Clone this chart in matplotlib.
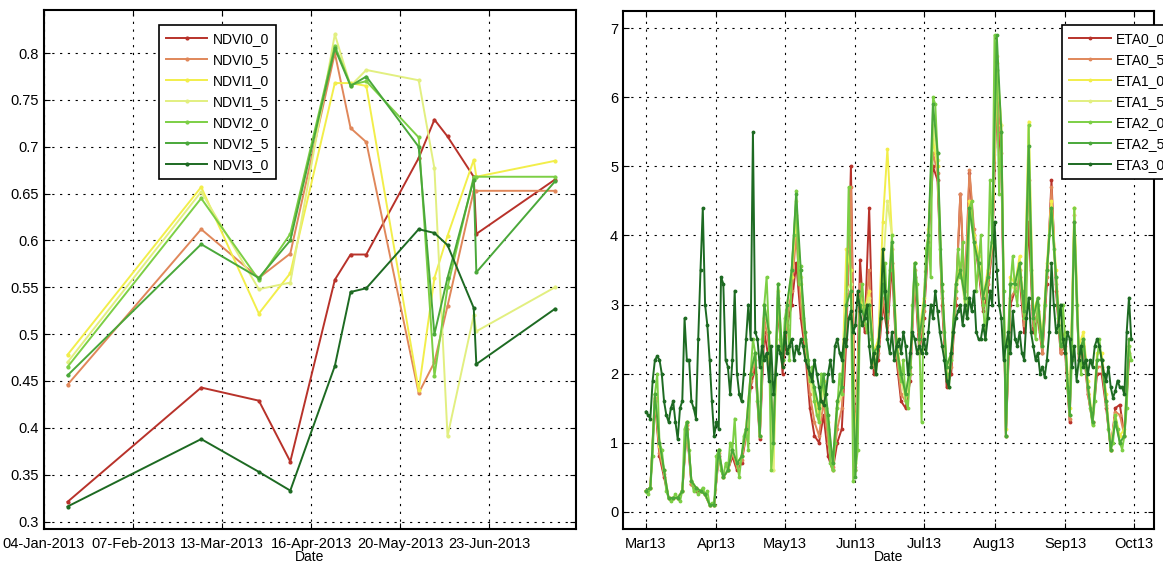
# Переводим matplotlib в безэкранный режим.
import matplotlib

matplotlib.use("Agg")

import matplotlib.pyplot as plt
import matplotlib.dates as mdates
import pandas as pd

# Шрифт в стиле MATLAB (Helvetica/Arial).
plt.rcParams["font.family"] = ["Liberation Sans", "DejaVu Sans"]

# ---------- Данные левого графика (NDVI) ----------
ndvi_dates = pd.to_datetime([
    "2013-01-13", "2013-03-05", "2013-03-27", "2013-04-08", "2013-04-25",
    "2013-05-01", "2013-05-07", "2013-05-27", "2013-06-02", "2013-06-07",
    "2013-06-17", "2013-06-18", "2013-07-18",
])
ndvi0_0 = [0.321, 0.443, 0.429, 0.364, 0.558, 0.585, 0.585, 0.688, 0.729, 0.711, 0.668, 0.607, 0.665]
ndvi0_5 = [0.446, 0.612, 0.560, 0.586, 0.800, 0.720, 0.705, 0.437, 0.470, 0.530, 0.653, 0.653, 0.653]
ndvi1_0 = [0.478, 0.657, 0.522, 0.565, 0.768, 0.768, 0.765, 0.440, 0.560, 0.605, 0.686, 0.668, 0.685]
ndvi1_5 = [0.470, 0.652, 0.548, 0.555, 0.820, 0.765, 0.782, 0.771, 0.677, 0.391, 0.520, 0.503, 0.550]
ndvi2_0 = [0.465, 0.645, 0.558, 0.607, 0.808, 0.766, 0.770, 0.710, 0.455, 0.550, 0.668, 0.668, 0.668]
ndvi2_5 = [0.456, 0.596, 0.560, 0.600, 0.805, 0.765, 0.775, 0.700, 0.500, 0.560, 0.665, 0.566, 0.663]
ndvi3_0 = [0.316, 0.388, 0.353, 0.333, 0.466, 0.545, 0.549, 0.612, 0.608, 0.595, 0.528, 0.468, 0.527]
ndvi_labels = ["NDVI0_0", "NDVI0_5", "NDVI1_0", "NDVI1_5", "NDVI2_0", "NDVI2_5", "NDVI3_0"]
ndvi_ticks = ["2013-01-04", "2013-02-07", "2013-03-13", "2013-04-16", "2013-05-20", "2013-06-23"]

# ---------- Данные правого графика (ETA) ----------
# Суточные ряды с 1 марта 2013.
eta2_0 = [
    0.3, 0.25, 0.35, 0.8, 1.7, 2.0, 1.0, 0.9, 0.6, 0.3,
    0.2, 0.15, 0.2, 0.25, 0.2, 0.15, 0.3, 1.2, 1.3, 0.9,
    0.45, 0.3, 0.35, 0.25, 0.3, 0.35, 0.25, 0.3, 0.1, 0.12, 0.1,
    0.8, 0.9, 0.6, 0.5, 0.7, 0.6, 1.0, 0.9, 1.35, 0.7,
    0.5, 0.8, 1.1, 1.2, 0.9, 2.0, 2.5, 2.3, 1.6, 1.1,
    2.5, 3.0, 3.4, 2.6, 0.6, 1.0, 2.0, 3.3, 2.5, 2.2,
    2.8, 3.0, 2.2, 3.5, 4.0, 4.65, 3.3, 3.56, 2.8, 2.5,
    2.2, 1.9, 2.1, 1.6, 1.4, 1.3, 2.0, 1.8, 1.5, 1.2,
    0.7, 0.6, 1.0, 1.5, 2.0, 1.7, 2.4, 3.0, 4.7, 3.2, 0.45,
    0.6, 0.9, 3.0, 3.3, 2.8, 2.6, 3.0, 2.5, 2.2, 2.0,
    2.4, 2.8, 3.2, 3.6, 2.8, 3.5, 4.0, 3.0, 2.4, 2.1,
    1.9, 2.2, 1.6, 1.5, 2.0, 3.0, 3.6, 3.3, 2.5, 1.3,
    3.0, 3.8, 4.0, 3.4, 6.0, 5.9, 5.2, 3.8, 3.2, 2.6,
    2.0, 1.8, 2.2, 2.6, 3.2, 3.8, 3.4, 3.9, 3.0, 2.8,
    4.4, 4.5, 3.9, 3.2, 3.6, 4.0, 3.0, 2.5, 3.4, 4.8, 3.9,
    6.9, 6.4, 4.6, 5.5, 3.2, 1.1, 2.6, 3.3, 3.7, 3.2,
    3.0, 3.6, 3.2, 2.8, 3.0, 5.6, 3.5, 2.8, 2.5, 3.0,
    2.6, 2.4, 3.0, 3.5, 4.0, 4.4, 3.8, 3.4, 2.8, 2.4, 3.0,
    2.5, 1.8, 1.4, 2.2, 4.4, 3.0, 2.3, 2.0, 2.5, 2.2,
    1.8, 1.5, 1.26, 1.6, 2.2, 2.5, 2.2, 2.0, 1.6, 1.2,
    0.9, 1.0, 1.4, 1.2, 1.0, 0.9, 1.1, 1.5, 2.4, 2.2,
]
eta3_0 = [
    1.45, 1.4, 1.35, 1.9, 2.2, 2.25, 2.2, 2.0, 1.6, 1.4,
    1.3, 1.5, 1.6, 1.3, 1.05, 1.5, 1.6, 2.8, 2.2, 2.2,
    1.6, 1.5, 1.35, 2.5, 3.5, 4.4, 3.0, 2.7, 2.2, 1.6, 1.1,
    1.3, 1.2, 3.4, 3.3, 2.2, 2.1, 1.7, 2.2, 3.2, 2.0,
    1.7, 1.6, 2.0, 2.5, 3.0, 2.5, 5.5, 2.6, 2.5, 2.1,
    2.4, 2.2, 2.3, 1.9, 2.4, 1.7, 2.0, 2.4, 2.3, 2.1,
    2.6, 2.3, 2.4, 2.5, 2.2, 2.4, 2.3, 2.5, 2.4, 2.2,
    2.1, 2.0, 1.9, 2.2, 2.0, 1.8, 1.6, 1.55, 1.7, 2.0,
    2.2, 1.9, 2.4, 2.5, 2.3, 2.2, 2.5, 2.4, 2.8, 2.9, 2.6,
    2.7, 3.2, 2.9, 2.7, 2.8, 3.0, 2.4, 2.1, 2.3, 2.0,
    2.4, 2.8, 3.8, 3.2, 2.5, 2.3, 2.6, 2.2, 2.4, 2.5,
    2.3, 2.6, 2.4, 2.0, 2.3, 2.6, 2.5, 2.3, 2.4, 2.3,
    2.5, 2.3, 2.6, 3.0, 2.8, 3.2, 2.9, 2.6, 2.4, 2.2,
    1.9, 1.8, 2.3, 2.6, 2.8, 2.9, 3.0, 2.7, 3.0, 2.8,
    3.1, 2.9, 3.2, 2.6, 2.5, 2.5, 2.7, 2.5, 2.8, 3.2, 3.0,
    4.2, 3.5, 3.0, 2.8, 2.2, 2.4, 2.6, 2.3, 2.9, 2.5,
    2.4, 2.6, 2.3, 2.2, 2.8, 3.1, 2.6, 2.4, 2.2, 2.3,
    2.0, 2.1, 1.95, 2.2, 2.6, 3.6, 3.0, 2.6, 2.7, 3.0, 2.5,
    2.3, 2.6, 2.5, 2.1, 2.4, 1.9, 2.2, 2.4, 2.1, 2.2,
    2.0, 2.2, 2.1, 2.4, 2.5, 2.4, 2.2, 2.0, 1.9, 2.1,
    1.8, 1.65, 1.75, 1.9, 1.8, 1.8, 1.7, 2.6, 3.1, 2.5,
]
# Остальные ряды прочитаны с шагом в два дня.
eta0_0 = [
    0.3, 0.35, 1.6, 0.8, 0.5, 0.2, 0.2, 0.2, 0.3, 1.2, 0.4, 0.3, 0.3, 0.25, 0.1, 0.1,
    0.8, 0.5, 0.6, 0.8, 0.6, 0.7, 1.1, 1.8, 2.1, 1.05, 2.6, 2.2, 1.0, 3.0, 2.0,
    2.7, 3.0, 3.6, 2.8, 2.3, 1.5, 1.1, 1.0, 1.4, 0.8, 0.6, 1.0, 1.2, 2.5, 5.0,
    0.6, 3.65, 2.6, 4.4, 2.0, 2.2, 3.0, 2.6, 3.6, 2.2, 1.6, 1.5, 1.9, 3.4, 2.3,
    2.8, 3.9, 5.0, 4.8, 3.0, 1.8, 2.0, 3.0, 4.6, 3.1, 4.9, 4.0, 3.5, 2.9, 3.2, 3.8,
    6.0, 5.0, 1.1, 3.0, 3.2, 3.4, 2.6, 4.2, 2.6, 2.8, 2.3, 3.3, 4.8, 3.2, 2.3,
    2.3, 1.3, 4.2, 2.2, 2.4, 1.7, 1.3, 2.0, 2.0, 1.5, 0.9, 1.5, 1.55, 1.1, 2.2,
]
eta0_5 = [
    0.3, 0.35, 1.65, 0.85, 0.55, 0.2, 0.2, 0.2, 0.3, 1.25, 0.4, 0.35, 0.3, 0.25, 0.1, 0.1,
    0.85, 0.5, 0.6, 0.85, 0.65, 0.75, 1.1, 1.9, 2.2, 1.1, 2.8, 2.4, 1.0, 3.1, 2.1,
    2.8, 3.2, 4.0, 3.0, 2.4, 1.7, 1.3, 1.1, 1.6, 1.0, 0.65, 1.2, 1.5, 2.7, 4.7,
    0.65, 3.3, 2.7, 3.5, 2.1, 2.3, 3.1, 2.7, 3.8, 2.3, 1.7, 1.6, 2.0, 3.5, 2.4,
    2.9, 4.0, 5.2, 4.9, 3.1, 1.9, 2.1, 3.1, 4.6, 3.2, 4.95, 4.1, 3.6, 3.0, 3.3, 3.8,
    6.2, 5.2, 1.1, 3.1, 3.2, 3.5, 2.7, 4.8, 2.7, 2.9, 2.3, 3.4, 4.7, 3.3, 2.3,
    2.4, 1.35, 4.3, 2.2, 2.4, 1.7, 1.3, 2.1, 2.1, 1.55, 0.9, 1.45, 1.4, 1.1, 2.3,
]
eta1_0 = [
    0.3, 0.35, 1.7, 0.95, 0.6, 0.2, 0.2, 0.2, 0.3, 1.3, 0.45, 0.35, 0.3, 0.25, 0.1, 0.1,
    0.9, 0.5, 0.6, 0.9, 0.7, 0.8, 1.2, 2.0, 2.3, 1.1, 3.0, 2.6, 0.6, 3.2, 2.2,
    3.0, 3.4, 4.3, 3.3, 2.6, 1.9, 1.7, 1.4, 1.9, 1.3, 0.7, 1.6, 1.8, 3.8, 3.5,
    0.7, 3.1, 2.9, 3.2, 2.3, 2.5, 4.2, 5.25, 4.0, 2.5, 2.0, 1.7, 2.1, 3.6, 2.6,
    3.1, 4.1, 5.4, 5.0, 3.3, 2.1, 2.3, 3.3, 3.6, 3.1, 4.5, 4.0, 3.7, 3.1, 3.5, 3.9,
    6.5, 5.6, 1.2, 3.4, 3.3, 3.7, 2.9, 5.65, 2.9, 3.1, 2.5, 3.6, 4.5, 3.5, 2.5,
    2.6, 1.5, 4.4, 2.4, 2.6, 1.9, 1.3, 2.3, 2.3, 1.7, 0.9, 1.4, 1.1, 1.2, 2.5,
]
eta1_5 = [
    0.3, 0.35, 1.7, 1.0, 0.6, 0.2, 0.2, 0.2, 0.3, 1.3, 0.45, 0.35, 0.3, 0.25, 0.1, 0.1,
    0.9, 0.5, 0.6, 0.9, 0.7, 0.8, 1.2, 2.0, 2.3, 1.1, 3.0, 2.6, 0.6, 3.3, 2.2,
    3.0, 3.5, 4.5, 3.4, 2.5, 1.9, 1.6, 1.3, 1.8, 1.4, 0.6, 1.5, 1.7, 3.2, 3.3,
    0.6, 3.0, 2.8, 3.1, 2.2, 2.4, 3.5, 4.5, 4.0, 2.4, 1.9, 1.6, 2.0, 3.6, 2.5,
    3.0, 4.0, 5.6, 5.1, 3.2, 2.0, 2.2, 3.2, 3.5, 3.0, 4.4, 3.9, 3.6, 3.0, 3.4, 3.9,
    6.6, 5.6, 1.1, 3.3, 3.2, 3.6, 2.8, 5.6, 2.8, 3.0, 2.4, 3.5, 4.4, 3.4, 2.4,
    2.5, 1.4, 4.4, 2.3, 2.5, 1.8, 1.26, 2.2, 2.2, 1.6, 0.9, 1.4, 1.0, 1.1, 2.4,
]
eta2_5 = [
    0.3, 0.35, 1.7, 1.0, 0.6, 0.2, 0.2, 0.2, 0.3, 1.3, 0.45, 0.35, 0.3, 0.25, 0.1, 0.1,
    0.9, 0.5, 0.6, 0.9, 0.7, 0.8, 1.2, 2.0, 2.3, 1.1, 3.0, 2.6, 1.0, 3.3, 2.2,
    3.0, 3.5, 4.6, 3.5, 2.6, 2.0, 1.8, 1.5, 2.0, 1.4, 0.7, 1.6, 1.8, 3.0, 3.2,
    0.5, 3.0, 2.8, 3.0, 2.3, 2.4, 3.3, 2.9, 3.9, 2.4, 2.0, 1.7, 2.1, 3.6, 2.5,
    3.0, 4.0, 5.9, 5.2, 3.3, 2.1, 2.3, 3.3, 3.5, 3.1, 4.4, 3.9, 3.6, 3.1, 3.4, 4.0,
    6.9, 5.5, 1.1, 3.3, 3.3, 3.6, 2.9, 5.3, 2.8, 3.1, 2.4, 3.5, 4.4, 3.4, 2.4,
    2.5, 1.4, 4.2, 2.3, 2.5, 1.8, 1.3, 2.2, 2.2, 1.6, 0.9, 1.3, 1.0, 1.1, 2.5,
]
eta_labels = ["ETA0_0", "ETA0_5", "ETA1_0", "ETA1_5", "ETA2_0", "ETA2_5", "ETA3_0"]

# Цвета серий (от красного к тёмно-зелёному).
colors = ["#b8322a", "#e0875a", "#f2ee4a", "#e2ef80", "#7ccf45", "#4aa83a", "#1d6a22"]


def style_axes(ax):
    # Оформление в духе MATLAB: пунктирная сетка, рамка, засечки внутрь.
    ax.grid(True, color="k", linestyle=(0, (2, 5)), linewidth=0.8)
    ax.tick_params(direction="in", top=True, right=True, labelsize=10.5, length=4)
    ax.tick_params(axis="x", pad=6)
    for spine in ax.spines.values():
        spine.set_linewidth(1.5)
    ax.set_xlabel("Date", fontsize=10, labelpad=-1)


def add_legend(ax, x, y):
    # Легенда в рамке с прямыми углами.
    leg = ax.legend(loc="upper left", bbox_to_anchor=(x, y), borderaxespad=0, fontsize=10,
                    fancybox=False, edgecolor="k", framealpha=1, handlelength=3.0,
                    handletextpad=0.4, labelspacing=0.5, borderpad=0.5)
    leg.get_frame().set_linewidth(1.2)


def daily(values):
    # Суточная ось дат с 1 марта.
    return pd.date_range("2013-03-01", periods=len(values), freq="D")


def every_two_days(values):
    # Ось дат с шагом два дня.
    return pd.date_range("2013-03-01", periods=len(values), freq="2D")


fig = plt.figure(figsize=(11.63, 5.65), dpi=100)

# ---------- Левый график ----------
ax1 = fig.add_axes([0.0378, 0.0637, 0.4574, 0.9186])
ndvi_series = [ndvi0_0, ndvi0_5, ndvi1_0, ndvi1_5, ndvi2_0, ndvi2_5, ndvi3_0]
for values, label, color in zip(ndvi_series, ndvi_labels, colors):
    ax1.plot(ndvi_dates, values, "-", marker=".", markersize=4, linewidth=1.4, color=color, label=label)

ax1.set_xlim(pd.Timestamp("2013-01-04"), pd.Timestamp("2013-07-26"))
ax1.set_ylim(0.292, 0.846)
ax1.set_xticks(pd.to_datetime(ndvi_ticks))
ax1.xaxis.set_major_formatter(mdates.DateFormatter("%d-%b-%Y"))
ax1.set_yticks([0.3, 0.35, 0.4, 0.45, 0.5, 0.55, 0.6, 0.65, 0.7, 0.75, 0.8])
ax1.set_yticklabels(["0.3", "0.35", "0.4", "0.45", "0.5", "0.55", "0.6", "0.65", "0.7", "0.75", "0.8"])
style_axes(ax1)
add_legend(ax1, 0.216, 0.971)

# ---------- Правый график ----------
ax2 = fig.add_axes([0.5357, 0.0637, 0.4566, 0.9168])
eta_series = [eta0_0, eta0_5, eta1_0, eta1_5, eta2_0, eta2_5, eta3_0]
eta_dates = [every_two_days(eta0_0), every_two_days(eta0_5), every_two_days(eta1_0),
             every_two_days(eta1_5), daily(eta2_0), every_two_days(eta2_5), daily(eta3_0)]
for dates, values, label, color in zip(eta_dates, eta_series, eta_labels, colors):
    ax2.plot(dates, values, "-", marker=".", markersize=3.5, linewidth=1.4, color=color, label=label)

ax2.set_xlim(pd.Timestamp("2013-02-19"), pd.Timestamp("2013-10-10"))
ax2.set_ylim(-0.25, 7.25)
ax2.set_yticks(range(0, 8))
ax2.xaxis.set_major_locator(mdates.MonthLocator())
ax2.xaxis.set_major_formatter(mdates.DateFormatter("%b%y"))
style_axes(ax2)
# Легенда уходит за правый край рисунка, как в оригинале.
add_legend(ax2, 0.827, 0.973)

fig.savefig("out.png", dpi=100)
plt.close(fig)
